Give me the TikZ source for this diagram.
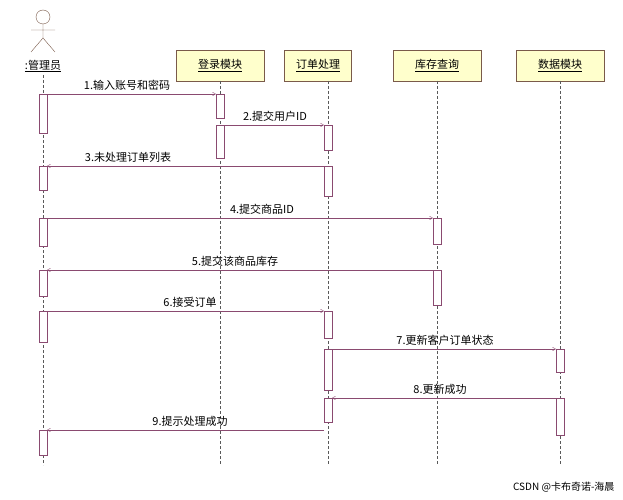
\documentclass[tikz,border=0pt]{standalone}
\usepackage{fontspec}
\setmainfont{Noto Sans CJK SC}
\usetikzlibrary{arrows}
\definecolor{msgc}{HTML}{8A4A70}
\definecolor{boxc}{HTML}{FFFFCC}
\definecolor{boxd}{HTML}{7A5A4A}
\tikzset{
  obj/.style={draw=boxd, fill=boxc, minimum width=88pt, minimum height=31pt, font=\fontsize{11}{13}\selectfont, anchor=north},
  life/.style={densely dashed, gray!70!black},
  act/.style={draw=msgc, fill=white},
  msg/.style={draw=msgc, ->, >=angle 60},
  lbl/.style={font=\fontsize{11}{13}\selectfont, anchor=south, inner sep=2pt}
}
\begin{document}
\begin{tikzpicture}[x=1pt, y=-1pt]
    \useasboundingbox (0,0) rectangle (623,500);
    % actor
    \draw[boxd] (43,17) circle (7);
    \draw[boxd] (43,24) -- (43,38) (31,30) -- (55,30) (43,38) -- (31,52) (43,38) -- (55,52);
    \node[font=\fontsize{11}{13}\selectfont] (adm) at (43,66) {\underline{:管理员}};
    % objects
    \node[obj] (login) at (220,50) {\underline{登录模块}};
    \node[obj, minimum width=67pt] (order) at (318,50) {\underline{订单处理}};
    \node[obj] (stock) at (437,50) {\underline{库存查询}};
    \node[obj] (data) at (560,50) {\underline{数据模块}};
    % lifelines
    \foreach \x/\y in {43/75, 220/81, 328/81, 437/81, 560/81}
        \draw[life] (\x,\y) -- (\x,465);
    % activations
    \foreach \x/\a/\b in {43/94/133, 43/166/190, 43/218/246, 43/270/296, 43/311/342, 43/430/455,
        220/94/118, 220/125/158, 328/125/150, 328/166/196, 328/311/338, 328/349/390, 328/398/422,
        437/218/244, 437/270/305, 560/349/372, 560/398/435}
        \filldraw[act] (\x-4,\a) rectangle (\x+4,\b);
    % messages
    \foreach \s/\t/\y/\l/\txt in {47/216/94/127/1.输入账号和密码, 224/324/125/275/2.提交用户ID,
        324/47/166/128/3.未处理订单列表, 47/433/218/262/4.提交商品ID, 433/47/270/235/5.提交该商品库存,
        47/324/311/190/6.接受订单, 332/556/349/445/7.更新客户订单状态, 556/332/398/440/8.更新成功,
        324/47/430/190/9.提示处理成功}
    {
        \draw[msg] (\s,\y) -- (\t,\y);
        \node[lbl] at (\l,\y-1) {\txt};
    }
    \node[font=\fontsize{10}{12}\selectfont, anchor=east] (mark) at (618,487) {CSDN @卡布奇诺-海晨};
\end{tikzpicture}
\end{document}
